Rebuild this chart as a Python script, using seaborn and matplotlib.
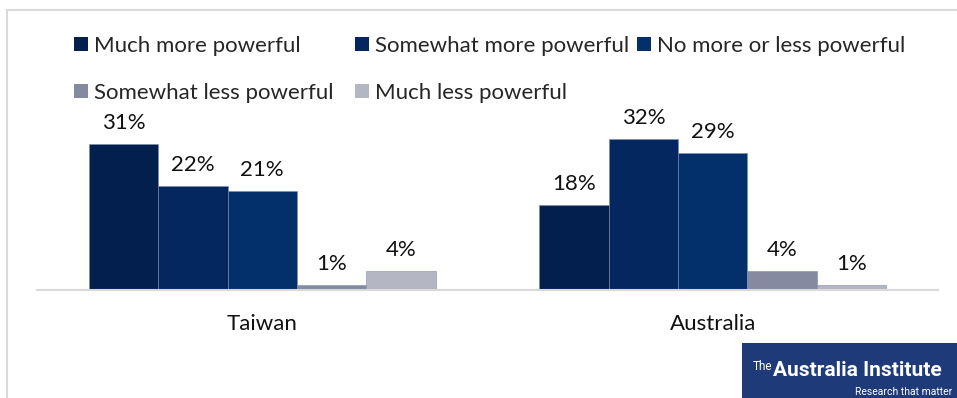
import matplotlib
matplotlib.use("Agg")
import matplotlib.pyplot as plt
from matplotlib.patches import Patch, Rectangle
from matplotlib.lines import Line2D
import seaborn as sns
import pandas as pd

countries = ["Taiwan", "Australia"]
responses = [
    "Much more powerful",
    "Somewhat more powerful",
    "No more or less powerful",
    "Somewhat less powerful",
    "Much less powerful",
]
taiwan = [31, 22, 21, 1, 4]
australia = [18, 32, 29, 4, 1]
colors = ["#021f4d", "#03275e", "#032f6b", "#868aa0", "#b4b6c3"]

rows = []
for country, vals in zip(countries, [taiwan, australia]):
    for resp, v in zip(responses, vals):
        rows.append({"country": country, "response": resp, "value": v})
df = pd.DataFrame(rows)

sns.set_theme(style="white")
FONT = ["Lato", "DejaVu Sans"]
plt.rcParams["font.family"] = FONT
FS = 16

W, H = 957, 398
fig = plt.figure(figsize=(W / 100, H / 100), dpi=100)
ax = fig.add_axes([37 / W, (H - 290) / H, 901 / W, 165 / H])

sns.barplot(
    data=df, x="country", y="value", hue="response",
    order=countries, hue_order=responses, palette=colors,
    saturation=1, width=0.77, edgecolor="#7c8db0", linewidth=0.4,
    legend=False, ax=ax,
)
ax.set_ylim(0, 35)
ax.set_xlim(-0.5, 1.5)
ax.set_xlabel("")
ax.set_ylabel("")
ax.set_yticks([])
ax.tick_params(axis="x", length=0, pad=17, labelsize=FS, labelcolor="#111111")
for s in ["top", "left", "right"]:
    ax.spines[s].set_visible(False)
ax.spines["bottom"].set_color("#d9d9d9")
ax.spines["bottom"].set_linewidth(1.5)

for cont in ax.containers:
    ax.bar_label(cont, labels=[f"{v:.0f}%" for v in cont.datavalues],
                 padding=8, fontsize=FS, color="#111111", clip_on=False)

# legend entries, laid out in two rows
legend_pos = [
    (74, 46), (355, 46), (637, 46),
    (74, 93), (355, 93),
]
for resp, col, (px, py) in zip(responses, colors, legend_pos):
    fig.legend(
        handles=[Patch(facecolor=col, edgecolor="none")], labels=[resp],
        loc="center left", bbox_to_anchor=(px / W, 1 - py / H),
        frameon=False, handlelength=0.62, handleheight=0.62,
        handletextpad=0.3, borderpad=0, borderaxespad=0,
        fontsize=FS,
    )

# outer frame lines
fig.add_artist(Line2D([7 / W, 7 / W], [0, 1 - 10 / H], color="#d9d9d9", lw=1.5,
                      transform=fig.transFigure))
fig.add_artist(Line2D([7 / W, 1], [1 - 10 / H, 1 - 10 / H], color="#d9d9d9", lw=1.5,
                      transform=fig.transFigure))

# institute badge
fig.add_artist(Rectangle((742 / W, 0), (W - 742) / W, 55 / H,
                         facecolor="#1f3a78", edgecolor="none",
                         transform=fig.transFigure))
LOGO = ["Roboto", "DejaVu Sans"]
fig.text(753 / W, 1 - 366 / H, "The", color="white", fontsize=8.5,
         family=LOGO, ha="left", va="center")
fig.text(773 / W, 1 - 371 / H, "Australia Institute", color="white", fontsize=15,
         family=LOGO, weight="bold", ha="left", va="center")
fig.text(952 / W, 1 - 392 / H, "Research that matter", color="white", fontsize=7.5,
         family=LOGO, ha="right", va="center")

fig.savefig("out.png", dpi=100)
